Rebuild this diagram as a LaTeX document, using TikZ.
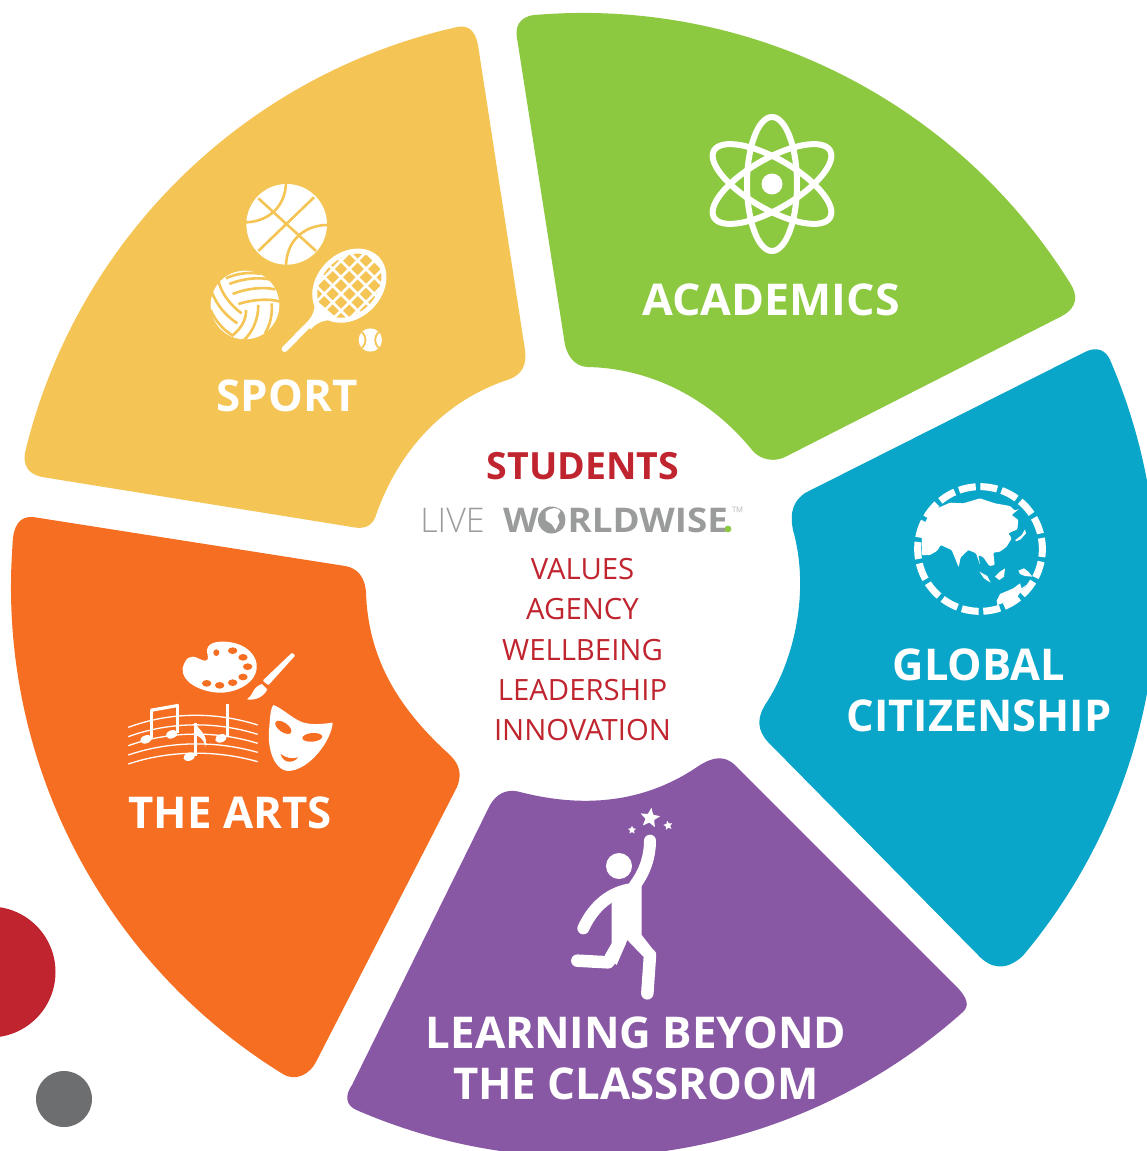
\documentclass[tikz,border=0pt]{standalone}
\usepackage{fontspec}
\usetikzlibrary{shapes.geometric}
\setmainfont{Open Sans}
\newfontfamily\lightfont{Open Sans Light}
\definecolor{sportcol}{HTML}{F4C454}
\definecolor{acadcol}{HTML}{8CC840}
\definecolor{globcol}{HTML}{09A6C9}
\definecolor{beyondcol}{HTML}{8858A4}
\definecolor{artscol}{HTML}{F56E22}
\definecolor{redcol}{HTML}{C0242F}
\definecolor{greycol}{HTML}{6D6E70}
\definecolor{logocol}{HTML}{9A9B9B}
\tikzset{
	headtext/.style={text=white,align=center,inner sep=0pt,font=\bfseries\fontsize{43.8}{51}\selectfont},
	redtext/.style={text=redcol,inner sep=0pt,font=\fontsize{29.3}{29}\selectfont},
	sportline/.style={draw=sportcol,line width=2.6pt},
	whiteline/.style={draw=white,line cap=round},
	starnode/.style={star,star points=5,star point ratio=2.3,fill=white,inner sep=0pt,rounded corners=0.5pt}
}
\begin{document}
\begin{tikzpicture}[x=1pt,y=-1pt]
	\useasboundingbox (0,0) rectangle (1147,1151);
	% petals
	\fill[sportcol] (25.6,450.1) arc[start angle=-166.2,end angle=-102.9,radius=574] .. controls (468,24) and (475,30) .. (478,45) -- (525,350) .. controls (527,365) and (522,374) .. (510,379) .. controls (445,400) and (398,450) .. (375,518) .. controls (370,528) and (362,529) .. (352,527) -- (42,477) .. controls (28,474) and (22,465) .. (25.6,450.1) -- cycle;
	\fill[acadcol] (537,14.8) arc[start angle=-94.6,end angle=-32,radius=574] .. controls (1078,295) and (1078,307) .. (1062,316) -- (787,456) .. controls (775,463) and (760,460) .. (752,450) .. controls (710,398) and (650,368) .. (587,367) .. controls (575,366) and (568,357) .. (565,345) -- (517,38) .. controls (514,22) and (525,15) .. (537,14.8) -- cycle;
	\fill[globcol] (1110.5,361) arc[start angle=-23.2,end angle=40,radius=574] .. controls (1005,972) and (990,968) .. (978,955) -- (768,742) .. controls (757,730) and (757,718) .. (765,705) .. controls (795,660) and (810,590) .. (793,530) .. controls (789,510) and (795,500) .. (805,493) -- (1085,352) .. controls (1097,346) and (1106,350) .. (1110.5,361) -- cycle;
	\fill[beyondcol] (962.2,1012.6) arc[start angle=48.3,end angle=113.4,radius=570] .. controls (345,1105) and (345,1095) .. (352,1085) -- (490,805) .. controls (496,795) and (505,788) .. (520,792) .. controls (590,810) and (650,800) .. (700,765) .. controls (715,756) and (725,756) .. (735,765) -- (955,985) .. controls (968,998) and (970,1006) .. (962.2,1012.6) -- cycle;
	\fill[artscol] (282.4,1073.7) arc[start angle=121.7,end angle=184.2,radius=572] .. controls (13,525) and (20,516) .. (33,517) -- (345,566) .. controls (358,568) and (365,578) .. (366,592) .. controls (368,660) and (400,710) .. (450,755) .. controls (460,765) and (462,775) .. (457,787) -- (317,1060) .. controls (310,1075) and (295,1082) .. (282.4,1073.7) -- cycle;
	% the two dots
	\fill[redcol] (-10,972) circle[radius=65.5];
	\fill[greycol] (64,1099) circle[radius=28];
	% labels
	\node[headtext] (sport) at (287,396) {SPORT};
	\node[headtext,xscale=1.02] (academics) at (771,300) {ACADEMICS};
	\node[headtext,xscale=0.99] (global) at (979,690) {GLOBAL\\CITIZENSHIP};
	\node[headtext] (beyond) at (636,1058) {LEARNING BEYOND\\THE CLASSROOM};
	\node[headtext] (arts) at (230,813) {THE ARTS};
	% middle
	\node[redtext,font=\fontsize{37.5}{37}\selectfont\bfseries] (students) at (583,466) {STUDENTS};
	\node[text=logocol,inner sep=0pt,font=\lightfont\fontsize{34}{34}\selectfont] (live) at (452.5,520) {LIVE};
	\node[text=logocol,inner sep=0pt,xscale=1.08,font=\fontsize{34}{34}\selectfont\bfseries] (worldwise) at (615.5,520) {WORLDWISE};
	\fill[logocol] (551.5,520) circle[radius=13.5];
	\fill[white] (545.5,512) .. controls (551.5,507) and (557.5,507) .. (560.5,511) -- (557.5,516) -- (559.5,522) -- (555.5,530) -- (551.5,524) -- (545.5,520) -- cycle;
	\fill[acadcol] (728,529) circle[radius=3.4];
	\node[text=logocol!70,inner sep=0pt,font=\lightfont\fontsize{16}{16}\selectfont] (tm) at (738,513) {™};
	\node[redtext] (values) at (582.5,569) {VALUES};
	\node[redtext] (agency) at (582.5,609) {AGENCY};
	\node[redtext] (wellbeing) at (582.5,650) {WELLBEING};
	\node[redtext] (leadership) at (582.5,690) {LEADERSHIP};
	\node[redtext] (innovation) at (582.5,730) {INNOVATION};
	% atom
	\fill[white] (772,184) circle[radius=10.5];
	\foreach \ang in {0,60,120}
		\draw[white,line width=6pt,rotate around={\ang:(772,184)}] (772,184) ellipse[x radius=25,y radius=67];
	% balls and racket
	\begin{scope}[shift={(190,170)},scale=1/3]
		\fill[white] (290,163) circle[radius=121];
		\draw[sportline] (205,85) -- (378,243) (372,82) -- (205,243);
		\draw[sportline] (168,157) .. controls (230,155) and (285,115) .. (288,40);
		\draw[sportline] (412,165) .. controls (350,165) and (290,205) .. (288,287);
		\fill[white] (165,405) circle[radius=103];
		\draw[sportline] (108,325) .. controls (140,310) and (180,305) .. (212,312);
		\draw[sportline] (118,342) .. controls (160,325) and (210,320) .. (245,330);
		\draw[sportline] (128,372) .. controls (170,355) and (220,350) .. (255,358);
		\draw[sportline] (145,402) .. controls (190,388) and (235,385) .. (272,395);
		\draw[sportline] (85,328) .. controls (90,365) and (120,405) .. (155,430);
		\draw[sportline] (65,365) .. controls (80,405) and (105,435) .. (142,460);
		\draw[sportline] (62,420) .. controls (75,450) and (95,475) .. (125,495);
		\draw[sportline] (168,420) .. controls (170,450) and (150,480) .. (125,498);
		\draw[sportline] (205,405) .. controls (205,445) and (190,485) .. (160,512);
		\draw[sportline] (245,400) .. controls (248,435) and (240,465) .. (225,490);
		\draw[white,line width=5pt,rotate around={45:(478,347)}] (478,347) ellipse[x radius=116,y radius=90];
		\begin{scope}
			\clip[rotate around={45:(478,347)}] (478,347) ellipse[x radius=116,y radius=90];
			\foreach \step in {-150,-125,...,150}{
				\draw[white,line width=2.6pt] (478+\step-150,347+\step+150) -- (478+\step+150,347+\step-150);
				\draw[white,line width=2.6pt] (478+\step-150,347-\step-150) -- (478+\step+150,347-\step+150);
			}
		\end{scope}
		\fill[white] (372,385) .. controls (378,415) and (370,440) .. (345,462) -- (362,478) .. controls (385,452) and (410,450) .. (445,448) -- cycle;
		\draw[whiteline,line width=6pt] (350,470) -- (284,537);
		\fill[white] (541,510) circle[radius=35];
		\draw[sportline,line width=1.8pt] (516,486) .. controls (530,500) and (530,520) .. (516,534);
		\draw[sportline,line width=1.8pt] (566,486) .. controls (552,500) and (552,520) .. (566,534);
	\end{scope}
	% palette, music and mask
	\begin{scope}[shift={(110,630)},scale=1/3]
		\fill[white] (218,115) .. controls (225,85) and (240,72) .. (265,85) .. controls (285,95) and (297,97) .. (293,75) .. controls (285,50) and (300,33) .. (345,35) .. controls (410,38) and (445,80) .. (440,115) .. controls (435,165) and (370,190) .. (325,188) .. controls (270,185) and (213,155) .. (218,115) -- cycle;
		\fill[artscol] (319,68) ellipse[x radius=9,y radius=10];
		\fill[artscol] (368,62) ellipse[x radius=14,y radius=10];
		\fill[artscol] (399,82) ellipse[x radius=14,y radius=10];
		\fill[artscol] (413,110) ellipse[x radius=14,y radius=10];
		\fill[artscol] (399,141) ellipse[x radius=14,y radius=10];
		\fill[artscol] (368,158) ellipse[x radius=14,y radius=10];
		\fill[artscol] (329,166) ellipse[x radius=14,y radius=10];
		\fill[artscol] (290,160) ellipse[x radius=14,y radius=10];
		\fill[white,rounded corners=1pt] (546,68) -- (556,76) -- (475,166) -- (458,152) -- cycle;
		\fill[white] (456,162) -- (472,178) .. controls (460,202) and (435,212) .. (411,208) .. controls (430,198) and (425,172) .. (456,162) -- cycle;
		\foreach \yl/\yc/\yr in {292/253/285,320/282/313,347/310/340,375/340/367,402/368/395}
			\draw[white,line width=1.3pt] (55,\yl) .. controls (180,\yc-8) and (320,\yc-8) .. (443,\yr);
		\foreach \hx/\hy in {108/328,185/313,238/380,333/325}
			\fill[white,rotate around={20:(\hx,\hy)}] (\hx,\hy) ellipse[x radius=18,y radius=12];
		\draw[white,line width=3pt] (124,325) -- (124,240) (203,310) -- (203,224) (256,378) -- (256,280) (353,322) -- (353,222);
		\draw[white,line width=3.2pt] (122,241) -- (206,226);
		\fill[white] (256,278) .. controls (265,300) and (298,315) .. (285,352) .. controls (285,330) and (270,320) .. (256,315) -- cycle;
		\fill[white] (490,225) .. controls (520,235) and (555,275) .. (590,280) .. controls (620,285) and (650,280) .. (668,278) .. controls (665,330) and (600,420) .. (535,423) .. controls (490,420) and (470,350) .. (478,290) .. controls (480,260) and (482,235) .. (490,225) -- cycle;
		\fill[artscol,rotate around={-35:(520,292)}] (520,292) ellipse[x radius=28,y radius=14];
		\fill[artscol,rotate around={5:(607,322)}] (607,322) ellipse[x radius=30,y radius=13];
		\fill[artscol] (512,372) .. controls (530,385) and (548,388) .. (565,382) .. controls (550,400) and (520,402) .. (512,372) -- cycle;
	\end{scope}
	% globe
	\begin{scope}[shift={(900,470)},scale=1/3]
		\draw[white,line width=7pt,dash pattern=on 17pt off 4.65pt,dash phase=9pt] (240,237) circle[radius=187];
		\fill[white,rounded corners=1pt] (65,255) -- (66,195) -- (78,150) -- (105,118) -- (150,98) -- (190,100) -- (240,85) -- (285,100) -- (330,108) -- (345,122) -- (358,116) -- (335,135) -- (355,150) -- (352,178) -- (325,190) -- (335,205) -- (320,230) -- (300,245) -- (280,248) -- (284,285) -- (268,288) -- (250,262) -- (235,255) -- (240,285) -- (228,250) -- (205,240) -- (182,262) -- (176,292) -- (155,240) -- (122,225) -- (112,242) -- (90,255) -- cycle;
		\fill[white] (346,210) -- (365,195) -- (375,178) -- (378,190) -- (362,208) -- (348,214) -- cycle;
		\fill[white] (238,305) -- (262,318) -- (272,338) -- (252,325) -- cycle;
		\fill[white] (285,320) -- (300,305) -- (315,295) -- (312,320) -- (298,330) -- cycle;
		\fill[white] (355,302) -- (372,295) -- (385,305) -- (397,320) -- (375,318) -- (360,312) -- cycle;
		\fill[white] (290,392) -- (300,372) -- (340,355) -- (360,340) -- (365,355) -- (378,345) -- (348,385) -- (292,405) -- cycle;
	\end{scope}
	% person and stars
	\begin{scope}[shift={(550,800)},scale=1/3]
		\fill[white] (207,198) circle[radius=39];
		\draw[whiteline,line width=12pt] (300,122) .. controls (300,170) and (285,215) .. (255,255);
		\draw[whiteline,line width=12pt] (100,385) .. controls (125,330) and (170,280) .. (240,268);
		\fill[white] (185,310) -- (240,250) -- (275,245) -- (275,405) -- (318,460) -- (280,470) -- (232,420) -- (200,495) -- (165,465) -- (185,430) -- cycle;
		\draw[whiteline,line width=12.5pt,line join=round] (82,482) -- (175,487) -- (210,425);
		\draw[whiteline,line width=12.5pt,line join=round] (292,580) -- (300,465);
	\end{scope}
	\node[starnode,minimum size=21pt,rotate=-8] (bigstar) at (650,818) {};
	\node[starnode,minimum size=9pt] (leftstar) at (632,830) {};
	\node[starnode,minimum size=10pt,rotate=10] (rightstar) at (668,825.5) {};
\end{tikzpicture}
\end{document}
